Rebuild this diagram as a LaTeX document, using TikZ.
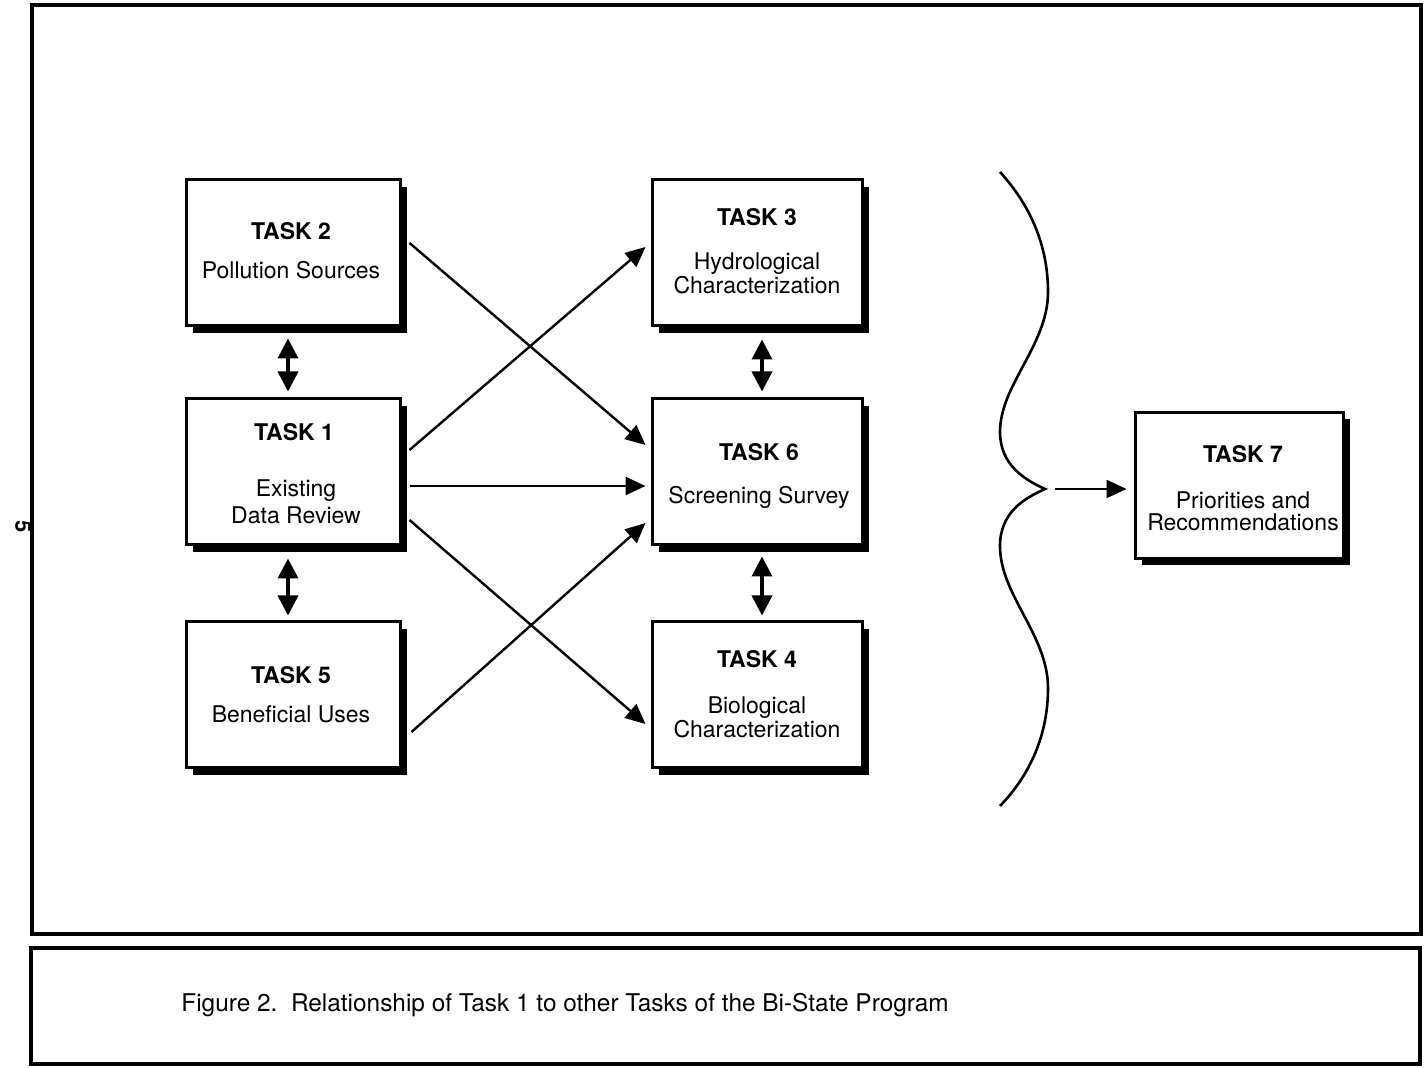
\documentclass[tikz,border=0pt]{standalone}
\usepackage{fontspec}
\setmainfont{TeX Gyre Heros}
\usetikzlibrary{arrows.meta,shadows,calc}
\begin{document}
\begin{tikzpicture}[x=0.5pt,y=-0.5pt,
  taskbox/.style={draw=black, line width=1.5pt, fill=white, minimum width=107pt, minimum height=73pt, inner sep=0pt,
    drop shadow={shadow xshift=3.5pt, shadow yshift=-3.5pt, fill=black, opacity=1}},
  hd/.style={font=\fontsize{11.5}{12}\selectfont\bfseries, inner sep=0pt},
  lb/.style={font=\fontsize{11.5}{11}\selectfont, align=center, inner sep=0pt},
  conn/.style={line width=1.2pt, -{Triangle[length=10pt,width=9pt]}},
  dbl/.style={line width=1.8pt, {Triangle[length=10pt,width=10pt]}-{Triangle[length=10pt,width=10pt]}},
  frame/.style={line width=2pt}]
\useasboundingbox (0,0) rectangle (1426,1068);
% frames
\draw[frame] (32,5) rectangle (1421,934);
\draw[frame] (31,948) rectangle (1420,1064);
\node[anchor=base west, inner sep=0pt, font=\fontsize{12.2}{14}\selectfont] (cap) at (181,1012)
  {Figure 2.\ \ Relationship of Task 1 to other Tasks of the Bi-State Program};
\node[rotate=-90, inner sep=0pt, font=\fontsize{11}{12}\selectfont\bfseries] (pg) at (23,527) {5};
% boxes
\node[taskbox] (t2) at (293,253) {};
\node[taskbox] (t1) at (293,472) {};
\node[taskbox] (t5) at (293,695) {};
\node[taskbox, minimum width=105pt] (t3) at (757,253) {};
\node[taskbox, minimum width=105pt] (t6) at (757,472) {};
\node[taskbox, minimum width=105pt] (t4) at (757,695) {};
\node[taskbox, minimum width=104pt] (t7) at (1239,485.5) {};
% labels
\node[hd] (t2h) at (291,231) {TASK 2};
\node[lb] (t2l) at (291,270) {Pollution Sources};
\node[hd] (t1h) at (294,432) {TASK 1};
\node[lb] (t1l) at (296,502) {Existing\\[2.5pt]Data Review};
\node[hd] (t5h) at (291,675) {TASK 5};
\node[lb] (t5l) at (291,714) {Beneficial Uses};
\node[hd] (t3h) at (757,217) {TASK 3};
\node[lb] (t3l) at (757,273) {Hydrological\\Characterization};
\node[hd] (t6h) at (759,452) {TASK 6};
\node[lb] (t6l) at (759,497) {Screening Survey};
\node[hd] (t4h) at (757,659) {TASK 4};
\node[lb] (t4l) at (757,717) {Biological\\Characterization};
\node[hd] (t7h) at (1243,454) {TASK 7};
\node[lb] (t7l) at (1243,511) {Priorities and\\Recommendations};
% double arrows
\draw[dbl] ([shift={(-5,11)}]t2.south) -- ([shift={(-5,-6)}]t1.north);
\draw[dbl] ([shift={(-5,12)}]t1.south) -- ([shift={(-5,-5)}]t5.north);
\draw[dbl] ([shift={(5,12)}]t3.south) -- ([shift={(5,-6)}]t6.north);
\draw[dbl] ([shift={(5,10)}]t6.south) -- ([shift={(5,-5)}]t4.north);
% connectors
\draw[conn] ([shift={(8,-10)}]t2.east) -- ([shift={(-5,-27)}]t6.west);
\draw[conn] ([shift={(8,-22)}]t1.east) -- ([shift={(-5,-6)}]t3.west);
\draw[conn] ([shift={(8,14)}]t1.east) -- ([shift={(-5,14)}]t6.west);
\draw[conn] ([shift={(8,48)}]t1.east) -- ([shift={(-5,29)}]t4.west);
\draw[conn] ([shift={(10,37)}]t5.east) -- ([shift={(-5,51)}]t6.west);
% brace
\coordinate (tip) at (1045,489);
\draw[line width=1.3pt] (1000,172) .. controls (1030,205) and (1048,245) .. (1048,292)
 .. controls (1048,345) and (1000,385) .. (1000,432)
 .. controls (1000,465) and (1025,480) .. (tip)
 .. controls (1025,498) and (1000,512) .. (1000,546)
 .. controls (1000,595) and (1048,635) .. (1048,688)
 .. controls (1048,735) and (1030,775) .. (1000,806);
\draw[conn] ([shift={(10,0)}]tip) -- ([shift={(-7,3.5)}]t7.west);
\end{tikzpicture}
\end{document}
